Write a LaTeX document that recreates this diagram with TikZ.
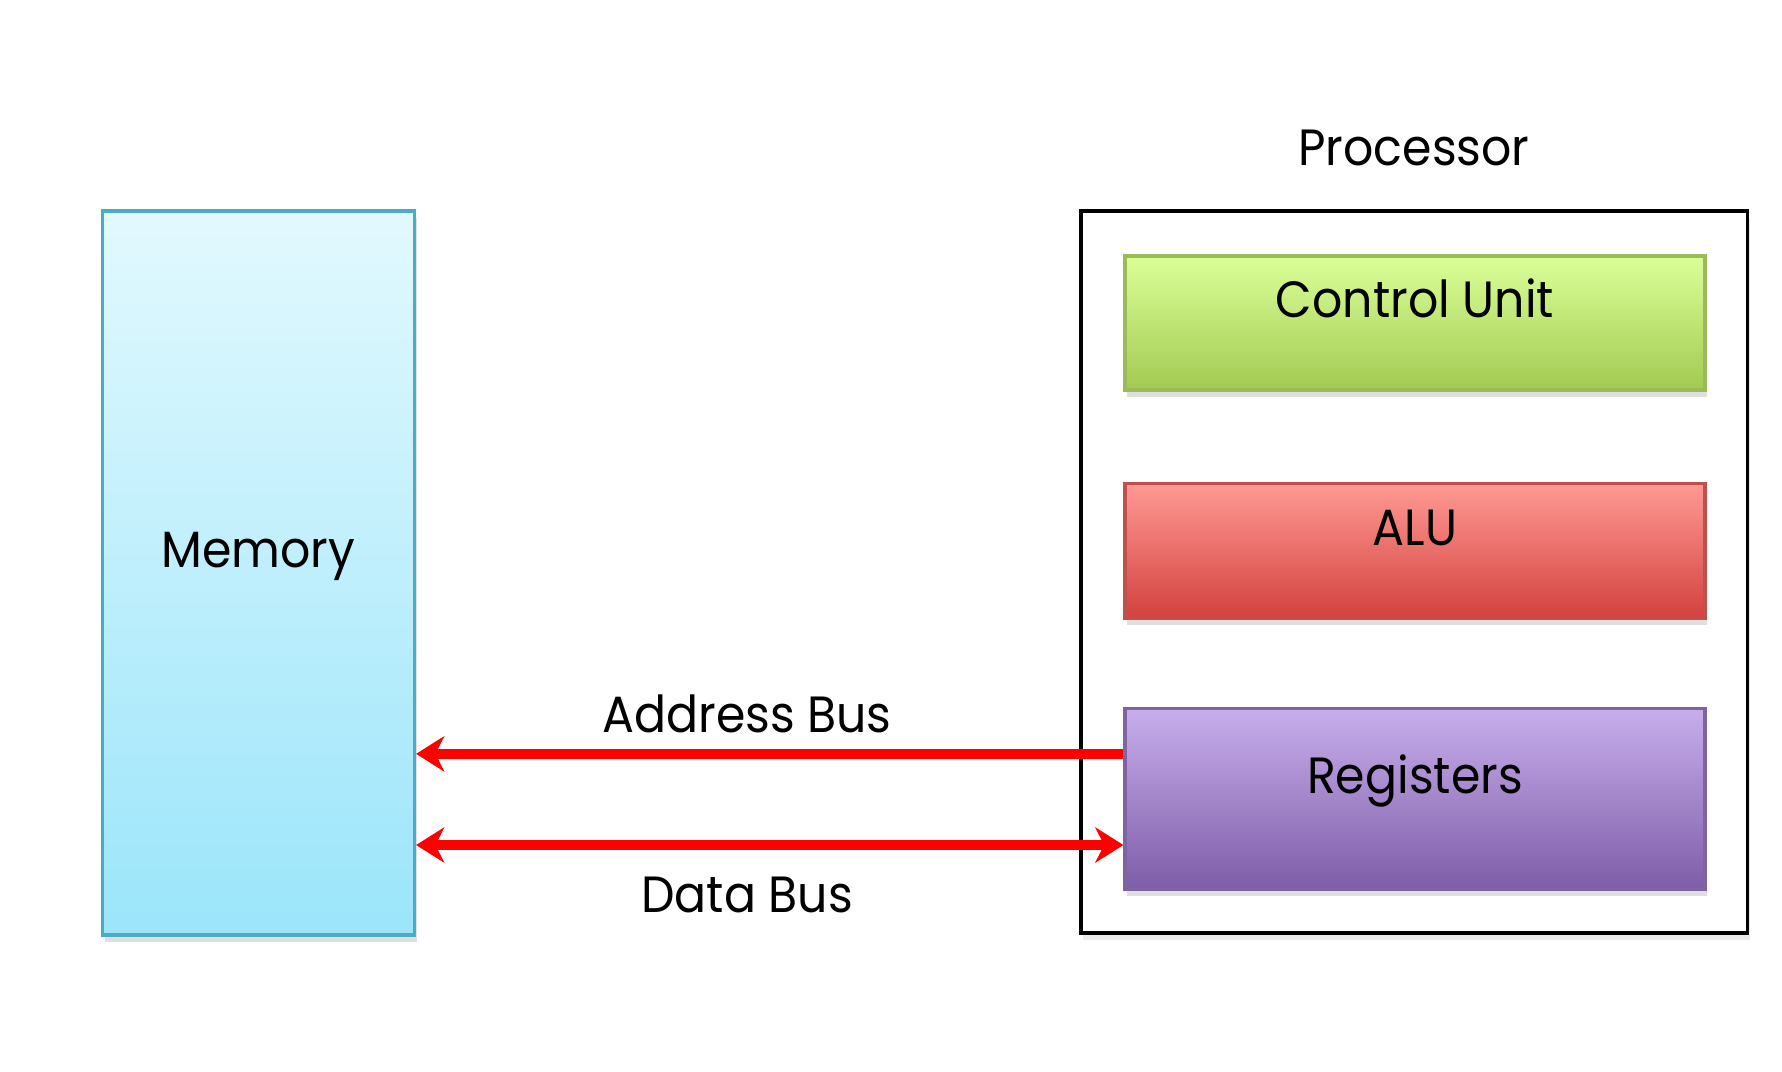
\documentclass[tikz,border=0pt]{standalone}
\usepackage{fontspec}
\setmainfont[FakeStretch=0.93]{Poppins}
\usepackage{tikz}
\usetikzlibrary{positioning, shapes, arrows.meta, shadows, calc}

\definecolor{memtop}{HTML}{E2F9FE}
\definecolor{membot}{HTML}{9BE5FA}
\definecolor{memline}{HTML}{4BACC6}
\definecolor{cutop}{HTML}{DBFF98}
\definecolor{cubot}{HTML}{A2CA52}
\definecolor{culine}{HTML}{9BBB59}
\definecolor{alutop}{HTML}{FF9A94}
\definecolor{alubot}{HTML}{D3413E}
\definecolor{aluline}{HTML}{C0504D}
\definecolor{regtop}{HTML}{C8AEEC}
\definecolor{regbot}{HTML}{7E5DA8}
\definecolor{regline}{HTML}{8064A2}
\definecolor{busred}{HTML}{FF0000}

\begin{document}
\begin{tikzpicture}[
    font=\fontsize{14.5}{17}\selectfont,
    unit/.style={rectangle, draw, line width=0.9pt, text height=0.4cm, text depth=0.51cm,
        drop shadow={opacity=0.25, shadow xshift=0.02cm, shadow yshift=-0.07cm}},
    bustip/.tip={Stealth[length=8pt, width=10pt, inset=2.5pt]},
    bus/.style={busred, line width=2.8pt}
]
    \useasboundingbox (0,0) rectangle (17.82,10.72);
    \node[unit, draw=memline, top color=memtop, bottom color=membot,
        minimum width=3.12cm, minimum height=7.24cm] (mem) at (2.585,4.99) {Memory};
    \node[draw=black, line width=0.9pt, minimum width=6.665cm, minimum height=7.22cm,
        drop shadow={opacity=0.15, shadow xshift=0.02cm, shadow yshift=-0.07cm},
        fill=white] (proc) at (14.143,5.0) {};
    \node[anchor=base] (proclabel) at (14.14,9.06) {Processor};
    \node[unit, draw=culine, top color=cutop, bottom color=cubot,
        minimum width=5.80cm, minimum height=1.34cm] (cu) at (14.15,7.49) {Control Unit};
    \node[unit, draw=aluline, top color=alutop, bottom color=alubot,
        minimum width=5.80cm, minimum height=1.35cm] (alu) at (14.15,5.21) {ALU};
    \node[unit, draw=regline, top color=regtop, bottom color=regbot,
        minimum width=5.80cm, minimum height=1.81cm] (reg) at (14.15,2.73) {Registers};

    \coordinate (addr) at ($(reg.north west)!0.255!(reg.south west)$);
    \coordinate (data) at ($(reg.north west)!0.75!(reg.south west)$);
    \draw[bus, bustip-] (mem.east |- addr) -- (addr);
    \draw[bus, bustip-bustip] (mem.east |- data) -- (data);
    \node[anchor=base] (addrlabel) at (7.47,3.39) {Address Bus};
    \node[anchor=base] (datalabel) at (7.47,1.59) {Data Bus};
\end{tikzpicture}
\end{document}
